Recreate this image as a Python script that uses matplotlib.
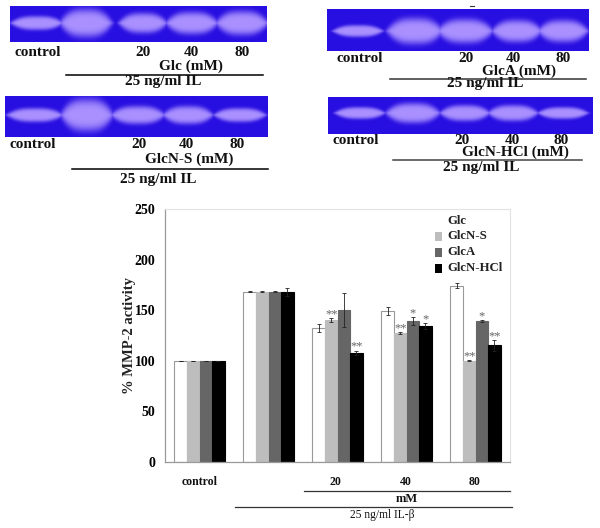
import numpy as np
import matplotlib
matplotlib.use('Agg')
import matplotlib.pyplot as plt
from matplotlib.patches import Rectangle

plt.rcParams['font.family'] = ['Liberation Serif', 'DejaVu Serif']

# bar chart values
groups = ['control', '', '20', '40', '80']
series_names = ['Glc', 'GlcN-S', 'GlcA', 'GlcN-HCl']
glc = [100, 168, 132, 149, 174]
glcn_s = [100, 168, 140, 127, 100]
glca = [100, 168, 150, 139, 139]
glcn_hcl = [100, 168, 108, 134, 115]
glc_err = [0, 0.5, 4, 4, 2.5]
glcn_s_err = [0, 0.5, 2, 1, 0.3]
glca_err = [0, 0.5, 17, 4, 1]
glcn_hcl_err = [0, 4, 2, 3, 5]
glc_stars = ['', '', '', '', '']
glcn_s_stars = ['', '', '**', '**', '**']
glca_stars = ['', '', '', '*', '*']
glcn_hcl_stars = ['', '', '**', '*', '**']

# gel panels: band centres, half widths, half heights (pixels)
gel1_x = [37, 86, 143, 192, 242]
gel1_w = [27, 27, 25, 27, 27]
gel1_h = [7, 14, 10, 11, 12]
gel2_x = [35, 87, 138, 188, 240]
gel2_w = [29, 27, 28, 26, 27]
gel2_h = [7, 16, 9, 9, 7]
gel3_x = [358, 415, 465, 517, 563]
gel3_w = [26, 29, 29, 26, 26]
gel3_h = [6, 13, 12, 11, 11]
gel4_x = [360, 413, 465, 513, 563]
gel4_w = [26, 28, 26, 26, 26]
gel4_h = [6, 10, 8, 8, 6]

fig = plt.figure(figsize=(6, 5.28), dpi=100)
bg = fig.add_axes([0, 0, 1, 1])
bg.set_xlim(0, 600)
bg.set_ylim(528, 0)
bg.axis('off')


def draw_gel(x0, x1, y0, y1, yc, xs, ws, hs):
    xx, yy = np.meshgrid(np.arange(x0, x1) + 0.5, np.arange(y0, y1) + 0.5)
    band = np.zeros_like(xx)
    for c, w, h in zip(xs, ws, hs):
        # lens shaped band, tapering to the sides
        d = np.abs((xx - c) / w) ** 3 + np.abs((yy - yc) / h)
        band = np.maximum(band, np.exp(-d ** 4))
    back = np.array([40, 15, 225]) / 255
    light = np.array([170, 145, 255]) / 255
    img = back + band[..., None] * (light - back)
    bg.imshow(img, extent=(x0, x1, y1, y0), aspect='auto', interpolation='bilinear')


draw_gel(10, 267, 6, 42, 23, gel1_x, gel1_w, gel1_h)
draw_gel(5, 268, 96, 137, 115, gel2_x, gel2_w, gel2_h)
draw_gel(327, 589, 9, 51, 31, gel3_x, gel3_w, gel3_h)
draw_gel(328, 593, 97, 134, 113, gel4_x, gel4_w, gel4_h)
bg.set_xlim(0, 600)
bg.set_ylim(528, 0)


def label(x, y, s, size=11, weight='bold', color='#111111'):
    bg.text(x, y, s, ha='center', va='center', fontsize=size, fontweight=weight, color=color)


def gel_labels(cx, ty, doses, name, nx, ny, il_x, il_y, lx0, lx1, ly, lc='black'):
    label(cx, ty, 'control')
    for x, d in zip(doses, ['20', '40', '80']):
        label(x, ty, d)
    label(nx, ny, name)
    label(il_x, il_y, '25 ng/ml IL')
    bg.plot([lx0, lx1], [ly, ly], color=lc, lw=1.1)


gel_labels(38, 52, [143, 191, 242], 'Glc (mM)', 191, 66, 163, 82, 66, 263, 74.5)
gel_labels(33, 144, [139, 186, 237], 'GlcN-S (mM)', 189, 159, 158, 179, 72, 268, 169)
gel_labels(360, 58, [466, 513, 563], 'GlcA (mM)', 519, 71, 485, 84, 390, 586, 79, '#333333')
gel_labels(356, 140, [462, 512, 561], 'GlcN-HCl (mM)', 515, 152, 481, 167, 393, 582, 160, '#444444')
bg.plot([470, 474], [6, 6], color='#333333', lw=0.8)

# bar chart
ax = fig.add_axes([165 / 600, 1 - 461.7 / 528, 345 / 600, 252.7 / 528])
ax.patch.set_alpha(0)
x = np.arange(len(groups))
width = 0.183
values = [glc, glcn_s, glca, glcn_hcl]
errors = [glc_err, glcn_s_err, glca_err, glcn_hcl_err]
stars = [glc_stars, glcn_s_stars, glca_stars, glcn_hcl_stars]
fills = ['white', '#bdbdbd', '#666666', 'black']
edges = ['#999999', '#bdbdbd', '#666666', 'black']
for i in range(4):
    pos = x + (i - 1.5) * width
    ax.bar(pos, values[i], width, color=fills[i], edgecolor=edges[i], linewidth=0.8)
    ax.errorbar(pos, values[i], yerr=errors[i], fmt='none', ecolor='#222222',
                elinewidth=0.6, capsize=1.5, capthick=0.6)
    for p, v, e, s in zip(pos, values[i], errors[i], stars[i]):
        if s:
            ax.text(p, v + e - 2, s, ha='center', va='bottom', fontsize=9, color='#666666')

ax.set_xlim(-0.5, 4.5)
ax.set_ylim(0, 250)
ax.set_yticks([0, 50, 100, 150, 200, 250])
ax.set_xticks([])
ax.tick_params(axis='y', length=0, pad=7)
for t in ax.get_yticklabels():
    t.set_fontsize(10)
    t.set_fontweight('bold')
for side in ['top', 'right']:
    ax.spines[side].set_color('#e2e2e2')
for side in ['left', 'bottom']:
    ax.spines[side].set_color('#999999')
    ax.spines[side].set_linewidth(0.9)

bg.text(130, 335, '% MMP-2 activity', rotation=90, ha='center', va='center',
        fontsize=10.5, fontweight='bold', color='#222222')

# legend
leg_y = [221, 236, 252, 268]
for name, y, c in zip(series_names, leg_y, fills):
    bg.add_patch(Rectangle((435, y - 4.5), 6.5, 9, facecolor=c, edgecolor='none'))
    bg.text(447, y, name, ha='left', va='center', fontsize=9.2, fontweight='bold', color='#222222')

# group labels under the axis
for gx, g in zip([200, 268, 335, 406, 475], groups):
    if g:
        label(gx, 482, g, size=8.5)
bg.plot([304, 510], [490.5, 490.5], color='#333333', lw=0.9)
label(407, 499, 'mM', size=9)
bg.plot([235, 512], [506.5, 506.5], color='#333333', lw=0.9)
label(382, 515, '25 ng/ml IL-β', size=8.3, weight='normal')

fig.savefig('out.png', dpi=100)
